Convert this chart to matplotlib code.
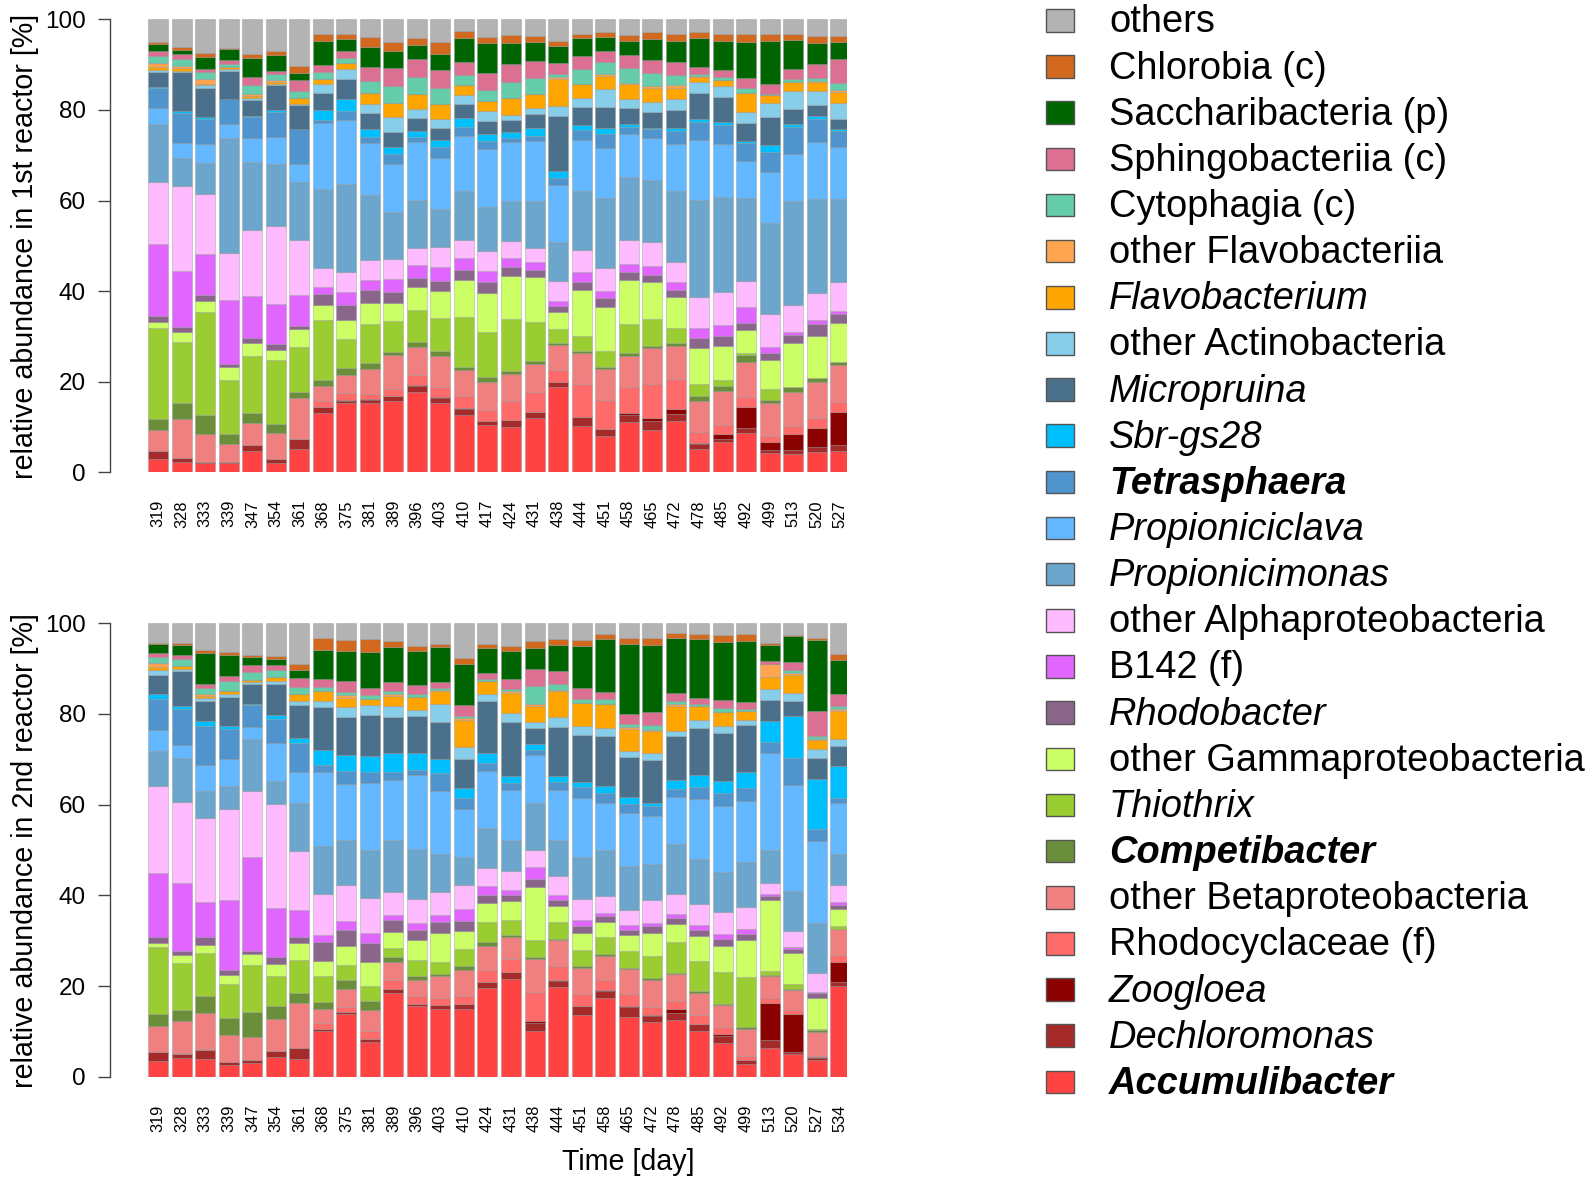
import numpy as np
import matplotlib
matplotlib.use("Agg")
import matplotlib.pyplot as plt
from matplotlib.patches import Rectangle

plt.rcParams['font.family'] = ['Liberation Sans', 'DejaVu Sans']

# ---------------------------------------------------------------- sampling days
days_1 = [319, 328, 333, 339, 347, 354, 361, 368, 375, 381, 389, 396, 403, 410, 417,
          424, 431, 438, 444, 451, 458, 465, 472, 478, 485, 492, 499, 513, 520, 527]
days_2 = [319, 328, 333, 339, 347, 354, 361, 368, 375, 381, 389, 396, 403, 410, 424,
          431, 438, 444, 451, 458, 465, 472, 478, 485, 492, 499, 513, 520, 527, 534]

# ---------------------------------------------------------------- reactor 1 (% reads)
accumulibacter_1 = [2.9, 2.2, 2.0, 2.0, 4.8, 2.1, 5.1, 13.1, 15.3, 15.3, 15.8, 17.7, 15.2, 12.6, 10.5,
                    10.1, 12.0, 18.7, 10.2, 8.0, 11.0, 9.3, 11.3, 5.1, 6.6, 8.6, 4.2, 4.0, 4.4, 4.8]
dechloromonas_1 = [1.8, 0.9, 0.2, 0.2, 1.25, 0.8, 2.2, 1.2, 0.5, 0.6, 1.0, 1.4, 1.3, 1.3, 0.8,
                   1.4, 1.3, 1.3, 1.9, 1.5, 1.6, 2.0, 1.5, 1.1, 0.7, 1.1, 0.7, 1.0, 1.1, 1.2]
zoogloea_1 = [0, 0, 0, 0, 0, 0, 0, 0, 0.15, 0.15, 0.15, 0.15, 0.15, 0.3, 0,
              0.15, 0, 0, 0.15, 0.15, 0.4, 0.7, 1.25, 0.2, 1.25, 4.7, 1.7, 3.5, 4.2, 7.35]
rhodocyclaceae_1 = [0, 0.15, 0, 0, 0, 0, 0, 1.5, 1.5, 1.3, 1.5, 2.2, 2.1, 2.6, 2.4,
                    4.0, 4.4, 2.6, 7.2, 6.3, 5.8, 7.5, 6.5, 2.4, 1.8, 2.2, 1.4, 1.8, 2.3, 2.2]
other_beta_1 = [4.6, 8.5, 6.25, 4.0, 4.9, 5.7, 9.1, 3.2, 4.0, 5.3, 7.4, 6.25, 6.9, 5.7, 6.25,
                6.0, 6.25, 5.4, 6.8, 6.8, 6.9, 7.9, 7.4, 7.0, 7.5, 7.8, 7.4, 7.5, 8.0, 8.0]
competibacter_1 = [2.4, 3.5, 4.2, 2.3, 2.2, 2.1, 1.3, 1.3, 1.5, 1.4, 0.7, 1.1, 1.1, 0.7, 1.1,
                   0.7, 0.7, 0.4, 0.5, 0.5, 0.5, 0.4, 0.7, 1.0, 1.1, 1.4, 0.6, 1.0, 0.8, 0.8]
thiothrix_1 = [20.2, 13.4, 22.8, 11.9, 12.6, 14.2, 10.0, 13.2, 6.5, 8.7, 6.8, 7.0, 7.4, 11.0, 9.8,
               11.5, 8.6, 3.2, 3.2, 3.5, 6.6, 6.0, 3.2, 2.6, 1.5, 0.4, 2.4, 0, 0, 0]
other_gamma_1 = [1.25, 2.2, 2.4, 2.9, 2.7, 2.2, 3.8, 3.5, 4.1, 4.6, 4.0, 5.0, 5.8, 8.1, 8.8,
                 9.5, 9.8, 3.75, 10.2, 9.8, 9.7, 8.2, 6.8, 8.0, 7.4, 5.2, 6.5, 9.7, 9.3, 8.5]
rhodobacter_1 = [1.25, 1.3, 1.2, 0.7, 1.1, 1.3, 0.7, 2.3, 3.4, 2.7, 2.4, 2.1, 2.2, 2.4, 2.3,
                 1.9, 1.6, 1.3, 1.8, 1.8, 1.6, 1.6, 1.6, 2.2, 2.2, 1.5, 1.5, 1.8, 2.7, 2.1]
b142_1 = [15.9, 12.2, 9.1, 14.0, 9.3, 8.75, 6.8, 1.5, 2.7, 2.3, 2.9, 2.9, 3.1, 2.6, 2.4,
          2.1, 1.8, 1.1, 2.1, 1.7, 1.8, 2.0, 1.7, 2.3, 2.4, 3.5, 1.3, 0.7, 0.7, 0.7]
other_alpha_1 = [13.6, 18.7, 13.2, 10.4, 14.6, 17.2, 12.1, 4.2, 4.6, 4.4, 4.4, 3.75, 4.4, 4.0, 4.4,
                 3.7, 3.1, 4.4, 4.9, 5.1, 5.3, 5.1, 4.5, 6.7, 7.4, 5.7, 7.3, 6.0, 6.0, 6.2]
propionicimonas_1 = [12.9, 6.25, 6.9, 25.6, 15.1, 13.7, 12.9, 17.4, 19.4, 14.3, 10.4, 10.5, 8.5, 10.7, 9.8,
                     8.9, 10.2, 8.7, 13.0, 15.4, 13.9, 13.8, 15.6, 21.3, 21.0, 18.4, 20.1, 22.9, 20.7, 18.5]
propioniciclava_1 = [3.5, 3.3, 4.1, 2.9, 5.3, 6.0, 3.8, 14.6, 14.1, 11.5, 10.7, 12.9, 11.2, 12.1, 12.8,
                     12.9, 13.4, 12.4, 11.4, 11.1, 9.5, 9.3, 10.4, 13.3, 11.5, 8.2, 11.1, 10.5, 12.6, 11.3]
tetrasphaera_1 = [4.3, 6.6, 5.6, 5.6, 4.6, 5.6, 7.7, 0.7, 1.8, 1.3, 2.1, 1.1, 2.4, 2.1, 1.8,
                  0.9, 1.1, 1.6, 2.1, 3.1, 1.6, 1.8, 2.9, 4.0, 4.2, 4.0, 4.5, 6.0, 5.1, 3.5]
sbr_gs28_1 = [0.2, 0.5, 0.4, 0, 0.2, 0.4, 0.2, 2.2, 2.7, 1.8, 1.5, 1.3, 1.6, 2.0, 1.5,
              1.5, 1.8, 1.5, 1.0, 1.3, 0.6, 0.4, 0.8, 0.7, 0.7, 0.4, 1.5, 0.6, 0.7, 0.5]
micropruina_1 = [3.4, 8.5, 6.5, 6.2, 3.6, 5.6, 5.1, 3.8, 4.4, 3.5, 3.4, 2.9, 2.6, 3.0, 2.9,
                 2.6, 2.9, 12.2, 4.0, 4.5, 3.6, 3.5, 3.8, 5.7, 5.6, 4.0, 6.2, 3.4, 2.5, 2.3]
other_actino_1 = [0.4, 0.4, 0.5, 0.4, 0.3, 0.3, 0.4, 2.0, 2.2, 2.0, 3.3, 1.9, 2.1, 2.0, 2.2,
                  1.1, 1.5, 2.2, 2.0, 4.0, 1.9, 2.1, 2.4, 2.4, 2.4, 2.4, 3.1, 3.9, 3.1, 3.5]
flavobacterium_1 = [0.6, 0.6, 0.3, 0.4, 0.4, 0.4, 1.25, 1.1, 1.3, 2.4, 3.1, 3.3, 3.3, 2.3, 2.2,
                    3.8, 3.1, 6.0, 3.1, 3.0, 3.3, 3.2, 2.5, 1.0, 1.3, 4.2, 1.8, 2.1, 1.9, 2.4]
other_flavo_1 = [1.0, 0.5, 1.1, 0, 0.5, 0.4, 0, 0, 0, 0, 0, 0, 0, 0, 0,
                 0, 0, 0.4, 0, 0.4, 0.3, 0.4, 0.6, 0.3, 0, 0, 0, 0, 0.3, 0.4]
cytophagia_1 = [1.5, 1.5, 1.5, 0.7, 1.9, 1.2, 1.5, 1.5, 1.2, 2.7, 3.75, 3.8, 3.4, 2.1, 2.3,
                3.5, 3.5, 0.7, 3.3, 2.6, 3.3, 2.9, 2.3, 0.5, 0.7, 1.0, 0.3, 0.6, 0.7, 1.6]
sphingobacteriia_1 = [1.1, 1.1, 0.7, 1.0, 1.8, 0.8, 2.5, 1.5, 1.5, 2.9, 4.0, 4.0, 4.0, 2.9, 3.8,
                      4.0, 3.6, 2.4, 2.9, 2.5, 2.9, 2.9, 2.9, 1.5, 1.5, 2.2, 2.2, 2.1, 3.0, 5.3]
saccharibacteria_1 = [1.5, 0.9, 2.7, 2.3, 4.3, 3.4, 1.5, 5.4, 2.7, 4.6, 3.7, 3.0, 3.6, 5.2, 6.6,
                      4.6, 4.4, 3.8, 3.9, 3.1, 3.1, 4.5, 4.5, 6.3, 6.5, 8.0, 9.3, 6.6, 4.6, 3.8]
chlorobia_1 = [0.4, 0.7, 0.9, 0.4, 0.9, 0.9, 1.6, 1.5, 1.1, 2.0, 1.9, 1.5, 2.5, 1.6, 1.5,
               1.8, 1.3, 1.1, 0.9, 1.0, 1.3, 1.5, 1.6, 1.5, 1.5, 1.8, 1.6, 1.3, 1.5, 1.3]
others_1 = [5.1, 6.0, 7.4, 6.25, 7.6, 7.1, 10.2, 3.2, 3.2, 4.0, 5.1, 4.2, 5.1, 2.6, 3.8,
            3.4, 3.6, 4.7, 3.3, 2.8, 3.4, 2.9, 3.3, 2.7, 3.2, 3.2, 3.3, 3.2, 3.75, 3.6]

# ---------------------------------------------------------------- reactor 2 (% reads)
accumulibacter_2 = [3.5, 4.2, 4.0, 2.6, 3.1, 4.4, 4.0, 10.1, 13.8, 7.6, 18.5, 15.5, 14.85, 14.85, 19.5,
                    21.5, 10.1, 19.8, 13.7, 17.3, 13.2, 12.1, 12.6, 10.1, 7.5, 2.8, 6.4, 4.9, 3.7, 20.1]
dechloromonas_2 = [2.0, 0.9, 1.9, 0.6, 0.6, 1.3, 2.4, 0.4, 0.5, 0.7, 0.8, 0.6, 0.9, 1.1, 1.5,
                   1.5, 1.8, 1.3, 1.8, 1.6, 2.1, 1.2, 1.5, 1.4, 1.5, 0.9, 1.7, 0.5, 0.4, 0.7]
zoogloea_2 = [0, 0, 0, 0, 0, 0, 0, 0, 0, 0, 0, 0, 0, 0, 0,
              0, 0.3, 0.2, 0.2, 0.2, 0.4, 0.3, 0.9, 0.2, 0.4, 0, 8.1, 8.5, 0.15, 4.5]
rhodocyclaceae_2 = [0, 0.15, 0.2, 0, 0, 0, 0, 1.25, 1.1, 1.8, 2.0, 1.7, 1.6, 1.8, 2.6,
                    2.9, 6.4, 3.1, 2.6, 2.2, 2.6, 1.7, 1.8, 1.8, 1.5, 0.9, 1.1, 0.9, 0.3, 1.5]
other_beta_2 = [5.7, 7.1, 7.9, 6.0, 5.1, 7.0, 9.9, 3.2, 4.0, 4.6, 4.1, 3.5, 4.85, 5.8, 5.3,
                4.9, 7.4, 5.6, 5.7, 5.5, 5.5, 6.0, 5.8, 5.0, 4.85, 6.0, 4.9, 4.3, 5.4, 5.7]
competibacter_2 = [2.7, 2.3, 3.75, 3.8, 5.4, 2.8, 2.1, 1.5, 1.9, 2.1, 1.0, 0.9, 0.4, 0.9, 0.9,
                   0.4, 0.4, 0.3, 0.4, 0.4, 0.3, 0.4, 0.4, 0.4, 0.3, 0.4, 0.3, 0.3, 0.3, 0.15]
thiothrix_2 = [14.7, 10.4, 9.6, 7.35, 10.4, 6.6, 7.35, 5.7, 3.4, 3.1, 2.0, 3.5, 2.7, 3.75, 4.4,
               3.3, 3.7, 3.8, 3.6, 3.8, 3.7, 4.85, 6.8, 6.5, 7.1, 10.9, 0.9, 1.0, 0.2, 0.6]
other_gamma_2 = [0.9, 1.8, 1.8, 2.1, 2.4, 2.7, 3.75, 3.3, 4.1, 5.3, 3.5, 4.4, 6.4, 4.0, 4.2,
                 4.2, 11.8, 3.4, 3.8, 3.2, 3.4, 5.1, 4.0, 5.5, 5.8, 8.2, 15.7, 6.8, 6.8, 3.7]
rhodobacter_2 = [1.3, 0.9, 1.8, 1.1, 0.7, 1.5, 1.3, 4.3, 3.5, 4.3, 2.6, 2.2, 2.4, 2.2, 1.8,
                 1.3, 1.8, 1.3, 1.5, 1.3, 1.1, 1.5, 1.25, 1.5, 1.5, 1.4, 0.9, 0.9, 1.1, 0.9]
b142_2 = [14.2, 15.1, 7.6, 15.4, 20.7, 10.9, 6.0, 1.5, 2.1, 2.1, 1.2, 1.5, 1.5, 2.6, 2.0,
          1.2, 2.7, 1.3, 1.2, 0.7, 1.1, 0.8, 0.9, 1.1, 1.1, 1.0, 0.4, 0.4, 0.3, 0.7]
other_alpha_2 = [19.1, 17.8, 18.6, 20.0, 14.6, 22.9, 12.9, 8.9, 7.9, 7.8, 5.1, 5.4, 5.1, 5.3, 4.0,
                 4.0, 3.7, 4.0, 4.6, 3.7, 3.5, 5.0, 4.4, 4.5, 4.9, 5.0, 2.4, 3.7, 4.3, 3.7]
propionicimonas_2 = [7.7, 9.8, 6.0, 5.1, 11.3, 5.1, 10.7, 10.7, 9.9, 10.5, 11.5, 11.0, 8.5, 6.1, 8.75,
                     6.9, 10.3, 8.0, 9.3, 10.3, 9.6, 7.8, 11.0, 10.0, 8.8, 9.7, 7.2, 8.8, 10.9, 7.0]
propioniciclava_2 = [4.7, 2.9, 5.8, 6.0, 2.7, 8.5, 6.8, 16.2, 12.4, 14.9, 13.1, 16.1, 13.75, 10.6, 12.6,
                     11.0, 10.7, 11.0, 13.1, 10.4, 11.8, 10.7, 10.4, 13.1, 14.5, 13.6, 21.5, 23.4, 18.1, 11.1]
tetrasphaera_2 = [6.8, 7.8, 8.5, 6.6, 4.8, 5.1, 6.4, 1.6, 2.8, 2.4, 1.8, 1.1, 4.0, 2.5, 1.8,
                  1.5, 1.1, 1.8, 2.3, 2.1, 2.0, 2.1, 1.8, 2.6, 2.9, 2.9, 2.5, 6.0, 2.6, 1.2]
sbr_gs28_2 = [1.1, 0.7, 1.1, 0.7, 0.3, 0.9, 1.0, 3.3, 3.7, 3.6, 4.2, 3.8, 3.1, 2.2, 2.1,
              1.6, 1.3, 1.3, 1.25, 1.5, 1.4, 0.8, 2.0, 2.6, 2.6, 3.5, 4.6, 9.1, 11.1, 7.1]
micropruina_2 = [4.2, 7.8, 4.4, 6.4, 4.5, 6.9, 7.4, 9.5, 8.4, 8.9, 8.0, 8.2, 8.2, 6.4, 11.5,
                 11.8, 3.4, 10.7, 10.3, 11.2, 8.8, 9.4, 9.6, 10.5, 10.7, 10.2, 4.5, 3.4, 4.5, 4.4]
other_actino_2 = [1.25, 0.4, 0.7, 0.7, 0.4, 0.7, 0.7, 1.2, 2.1, 2.2, 2.3, 1.25, 4.0, 2.6, 1.5,
                  2.0, 1.5, 2.2, 2.1, 1.8, 1.3, 1.5, 1.25, 1.7, 1.5, 1.3, 2.4, 1.7, 2.0, 1.4]
flavobacterium_2 = [0.6, 0.7, 0.5, 0.6, 0.5, 0.9, 1.6, 2.2, 2.1, 1.5, 2.3, 2.9, 2.7, 6.0, 2.9,
                    4.4, 3.5, 5.7, 4.9, 5.3, 5.0, 4.9, 5.4, 3.0, 3.1, 1.8, 2.7, 3.9, 2.1, 6.3]
other_flavo_2 = [0.8, 0, 0.4, 0, 0, 0, 0, 0, 0.6, 0, 0.4, 0, 0.4, 0.4, 0,
                 0.4, 0.4, 0.4, 0, 0, 0.3, 0.3, 0.4, 0, 0, 0, 2.9, 0.5, 0.2, 0.3]
cytophagia_2 = [1.3, 1.5, 1.3, 2.2, 1.7, 1.5, 1.5, 1.0, 0.7, 0.7, 0.7, 0.7, 0.3, 0.4, 0.4,
                0.5, 4.0, 1.2, 1.0, 1.0, 0.7, 1.1, 0.7, 0.6, 0.7, 0.5, 0, 0.7, 0.7, 0.7]
sphingobacteriia_2 = [0.9, 1.0, 0.9, 1.1, 1.5, 1.1, 2.0, 1.7, 2.4, 1.7, 2.0, 1.9, 1.3, 2.3, 1.4,
                      2.2, 3.7, 2.9, 2.35, 1.5, 2.2, 2.8, 1.9, 1.3, 1.8, 1.5, 0.7, 1.8, 5.4, 2.6]
saccharibacteria_2 = [2.0, 2.2, 6.8, 4.7, 1.8, 1.3, 1.8, 6.5, 6.6, 7.9, 7.7, 7.4, 7.8, 9.2, 5.6,
                      6.3, 4.7, 5.8, 9.4, 11.8, 15.5, 14.8, 12.1, 12.9, 12.9, 13.5, 3.5, 5.7, 15.8, 7.6]
chlorobia_2 = [0.3, 0.4, 0.7, 0.7, 0.4, 0.7, 1.3, 2.6, 2.5, 2.8, 1.3, 1.3, 0.7, 1.3, 0.9,
               0.9, 1.5, 1.3, 1.3, 1.1, 1.4, 1.5, 1.0, 1.1, 1.5, 1.5, 0.5, 0.3, 0.4, 1.3]
others_2 = [4.3, 4.3, 5.9, 6.25, 7.0, 7.2, 9.0, 3.2, 3.6, 3.5, 3.9, 4.9, 4.5, 7.6, 4.5,
            5.1, 3.9, 3.4, 3.6, 2.4, 3.2, 3.2, 2.2, 2.4, 2.6, 2.4, 4.3, 2.5, 3.2, 6.8]

# ---------------------------------------------------------------- taxa (stack order, bottom first)
taxa = ["Accumulibacter", "Dechloromonas", "Zoogloea", "Rhodocyclaceae (f)",
        "other Betaproteobacteria", "Competibacter", "Thiothrix",
        "other Gammaproteobacteria", "Rhodobacter", "B142 (f)",
        "other Alphaproteobacteria", "Propionicimonas", "Propioniciclava",
        "Tetrasphaera", "Sbr-gs28", "Micropruina", "other Actinobacteria",
        "Flavobacterium", "other Flavobacteriia", "Cytophagia (c)",
        "Sphingobacteriia (c)", "Saccharibacteria (p)", "Chlorobia (c)", "others"]
colors = ["#ff4343", "#a52a2a", "#8b0000", "#ff6a6a",
          "#f08080", "#6b8e3b", "#9acd32",
          "#ccff66", "#8b668b", "#e066ff",
          "#ffbbff", "#6ca6cd", "#63b8ff",
          "#4f94cd", "#00bfff", "#4a708b", "#87ceeb",
          "#ffa500", "#ffa54f", "#66cdaa",
          "#db7093", "#006400", "#d2691e", "#b3b3b3"]
# font style per legend entry: n = normal, i = italic, bi = bold italic
styles = ["bi", "i", "i", "n", "n", "bi", "i", "n", "i", "n", "n", "i", "i",
          "bi", "i", "i", "n", "i", "n", "n", "n", "n", "n", "n"]

reactor_1 = [accumulibacter_1, dechloromonas_1, zoogloea_1, rhodocyclaceae_1, other_beta_1,
             competibacter_1, thiothrix_1, other_gamma_1, rhodobacter_1, b142_1, other_alpha_1,
             propionicimonas_1, propioniciclava_1, tetrasphaera_1, sbr_gs28_1, micropruina_1,
             other_actino_1, flavobacterium_1, other_flavo_1, cytophagia_1, sphingobacteriia_1,
             saccharibacteria_1, chlorobia_1, others_1]
reactor_2 = [accumulibacter_2, dechloromonas_2, zoogloea_2, rhodocyclaceae_2, other_beta_2,
             competibacter_2, thiothrix_2, other_gamma_2, rhodobacter_2, b142_2, other_alpha_2,
             propionicimonas_2, propioniciclava_2, tetrasphaera_2, sbr_gs28_2, micropruina_2,
             other_actino_2, flavobacterium_2, other_flavo_2, cytophagia_2, sphingobacteriia_2,
             saccharibacteria_2, chlorobia_2, others_2]

# ---------------------------------------------------------------- figure
W, H = 1589, 1178
DPI = 100
fig = plt.figure(figsize=(W / DPI, H / DPI), dpi=DPI)


def axes_px(left, top, right, bottom):
    return fig.add_axes([left / W, 1 - bottom / H, (right - left) / W, (bottom - top) / H])


def stacked(ax, table, days):
    data = np.array(table, dtype=float)
    data = data / data.sum(axis=0) * 100.0          # relative abundance per sample
    x = np.arange(data.shape[1])
    base = np.zeros(data.shape[1])
    for vals, col in zip(data, colors):
        ax.bar(x, vals, width=0.85, bottom=base, color=col,
               edgecolor=(0.55, 0.55, 0.55, 0.35), linewidth=0.8)
        base += vals
    ax.set_xlim(-2.054, 29.29)
    ax.set_ylim(0, 100)
    for s in ("top", "right", "bottom"):
        ax.spines[s].set_visible(False)
    ax.spines["left"].set_color("#444444")
    ax.spines["left"].set_linewidth(1.0)
    ax.set_yticks(np.arange(0, 101, 20))
    ax.tick_params(axis="y", length=8.6, width=1.0, color="#444444", pad=8.6,
                   labelsize=17.5)
    ax.set_xticks(x)
    ax.set_xticklabels([str(d) for d in days], rotation=90, fontsize=11.8)
    ax.tick_params(axis="x", length=0, pad=20)


ax1 = axes_px(110, 19.3, 847, 472.3)
stacked(ax1, reactor_1, days_1)
ax2 = axes_px(110, 623.3, 847, 1076.7)
stacked(ax2, reactor_2, days_2)

fig.text(25 / W, 1 - 246 / H, "relative abundance in 1st reactor [%]",
         rotation=90, ha="center", va="center", fontsize=20.6)
fig.text(25 / W, 1 - 851 / H, "relative abundance in 2nd reactor [%]",
         rotation=90, ha="center", va="center", fontsize=20.6)
fig.text(628 / W, 1 - 1162 / H, "Time [day]", ha="center", va="center", fontsize=20.6)

# ---------------------------------------------------------------- legend (top entry = last taxon)
pitch = 46.15
for i, k in enumerate(range(len(taxa) - 1, -1, -1)):
    yc = 20.4 + i * pitch
    fig.add_artist(Rectangle((1046 / W, 1 - (yc + 11.25) / H), 28 / W, 22.5 / H,
                             transform=fig.transFigure, facecolor=colors[k],
                             edgecolor="#555555", linewidth=1.0))
    st = styles[k]
    fig.text(1109 / W, 1 - (yc + 12.0) / H, taxa[k], fontsize=27.4, va="baseline", ha="left",
             style="italic" if "i" in st else "normal",
             weight="bold" if "b" in st else "normal")

fig.savefig("out.png", dpi=DPI)
